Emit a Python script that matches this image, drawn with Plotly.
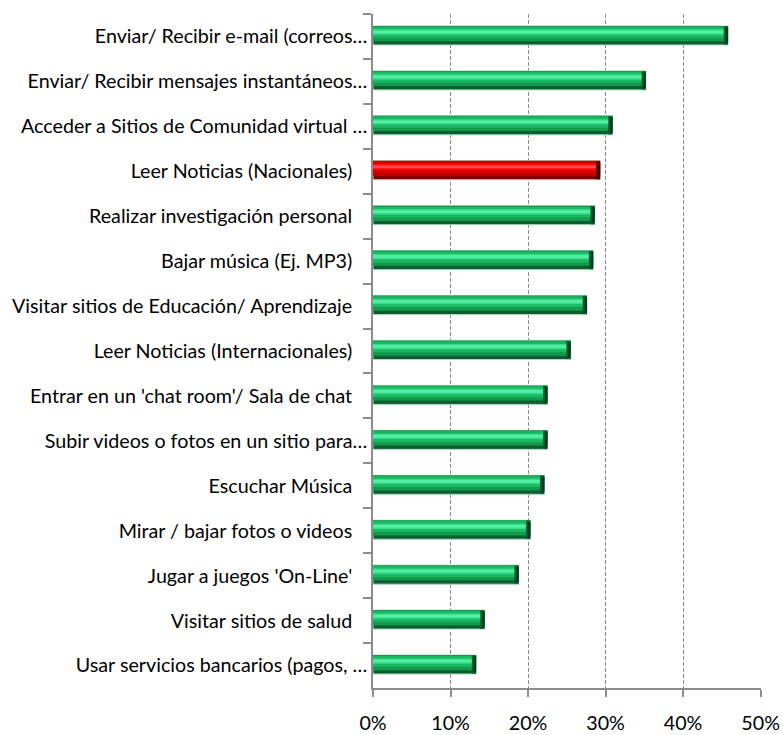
import plotly.graph_objects as go

# Online activities and share of respondents (%)
categories = [
    "Enviar/ Recibir e-mail (correos…",
    "Enviar/ Recibir mensajes instantáneos…",
    "Acceder a Sitios de Comunidad virtual …",
    "Leer Noticias (Nacionales)",
    "Realizar investigación personal",
    "Bajar música (Ej. MP3)",
    "Visitar sitios de Educación/ Aprendizaje",
    "Leer Noticias (Internacionales)",
    "Entrar en un 'chat room'/ Sala de chat",
    "Subir videos o fotos en un sitio para…",
    "Escuchar Música",
    "Mirar / bajar fotos o videos",
    "Jugar a juegos 'On-Line'",
    "Visitar sitios de salud",
    "Usar servicios bancarios (pagos, …",
]
values = [45.8, 35.2, 30.9, 29.3, 28.6, 28.4, 27.6, 25.5, 22.5, 22.5, 22.1, 20.3, 18.8, 14.4, 13.3]
highlight = "Leer Noticias (Nacionales)"
tick_values = [0, 10, 20, 30, 40, 50]

# Labels that are not cut off sit a little further from the axis
pad = "\u00a0\u00a0\u00a0"
labels = [c if c.endswith("…") else c + pad for c in categories]

FONT = "Lato, 'Open Sans', sans-serif"
FSIZE = 19.7
BAR_W = 0.423
BAR_OFF = -0.234

# Shading bands of the cylinder look: (start fraction, end fraction, green, red)
bands = [
    (0.00, 1.00, "#0c5e2f", "#7a0000"),
    (0.00, 0.80, "#139a4f", "#c00000"),
    (0.05, 0.62, "#1bb862", "#e00000"),
    (0.18, 0.46, "#36dc8a", "#ff1a1a"),
    (0.25, 0.38, "#55eea4", "#ff4a4a"),
]

fig = go.Figure()
for i, (s, e, g, r) in enumerate(bands):
    cols = [r if c == highlight else g for c in categories]
    fig.add_trace(go.Bar(
        x=values, y=labels, orientation="h",
        width=BAR_W * (e - s), offset=BAR_OFF + BAR_W * s,
        marker=dict(color=cols,
                    line=dict(color="#a8dcc0" if i == 0 else "rgba(0,0,0,0)", width=1 if i == 0 else 0)),
        hoverinfo="skip", showlegend=False,
    ))

# Darker bevelled end cap of each bar
caps = [
    (0.55, 0.02, 0.98, "#0b5a2d", "#6a0000"),
    (0.30, 0.10, 0.90, "#063a1c", "#450000"),
]
for ln, s, e, g, r in caps:
    cols = [r if c == highlight else g for c in categories]
    fig.add_trace(go.Bar(
        x=[ln] * len(values), base=[v - ln for v in values], y=labels, orientation="h",
        width=BAR_W * (e - s), offset=BAR_OFF + BAR_W * s,
        marker=dict(color=cols, line=dict(width=0)),
        hoverinfo="skip", showlegend=False,
    ))

fig.update_layout(
    width=783, height=735,
    margin=dict(l=373, r=22, t=14, b=47, autoexpand=False),
    barmode="overlay",
    paper_bgcolor="white", plot_bgcolor="white",
    font=dict(family=FONT, size=FSIZE, color="#000000"),
    showlegend=False,
)
fig.update_xaxes(
    range=[0, 50.05], tickvals=tick_values, ticktext=[f"{t}%" for t in tick_values],
    showgrid=True, gridcolor="#8c8c8c", gridwidth=1, griddash="4px,2px",
    zeroline=False, showline=True, linecolor="#8c8c8c", linewidth=1.5,
    ticks="outside", ticklen=7, tickcolor="#8c8c8c", tickwidth=1.5,
    ticklabelstandoff=10, tickfont=dict(size=FSIZE), automargin=False,
)
fig.update_yaxes(
    type="category", categoryorder="array", categoryarray=labels,
    autorange="reversed", showgrid=False, zeroline=False,
    showline=True, linecolor="#8c8c8c", linewidth=1.5,
    ticks="outside", tickson="boundaries", ticklen=8, tickcolor="#8c8c8c", tickwidth=1.5,
    ticklabelstandoff=0, tickfont=dict(size=FSIZE), automargin=False,
)

fig.write_html("out.html")
